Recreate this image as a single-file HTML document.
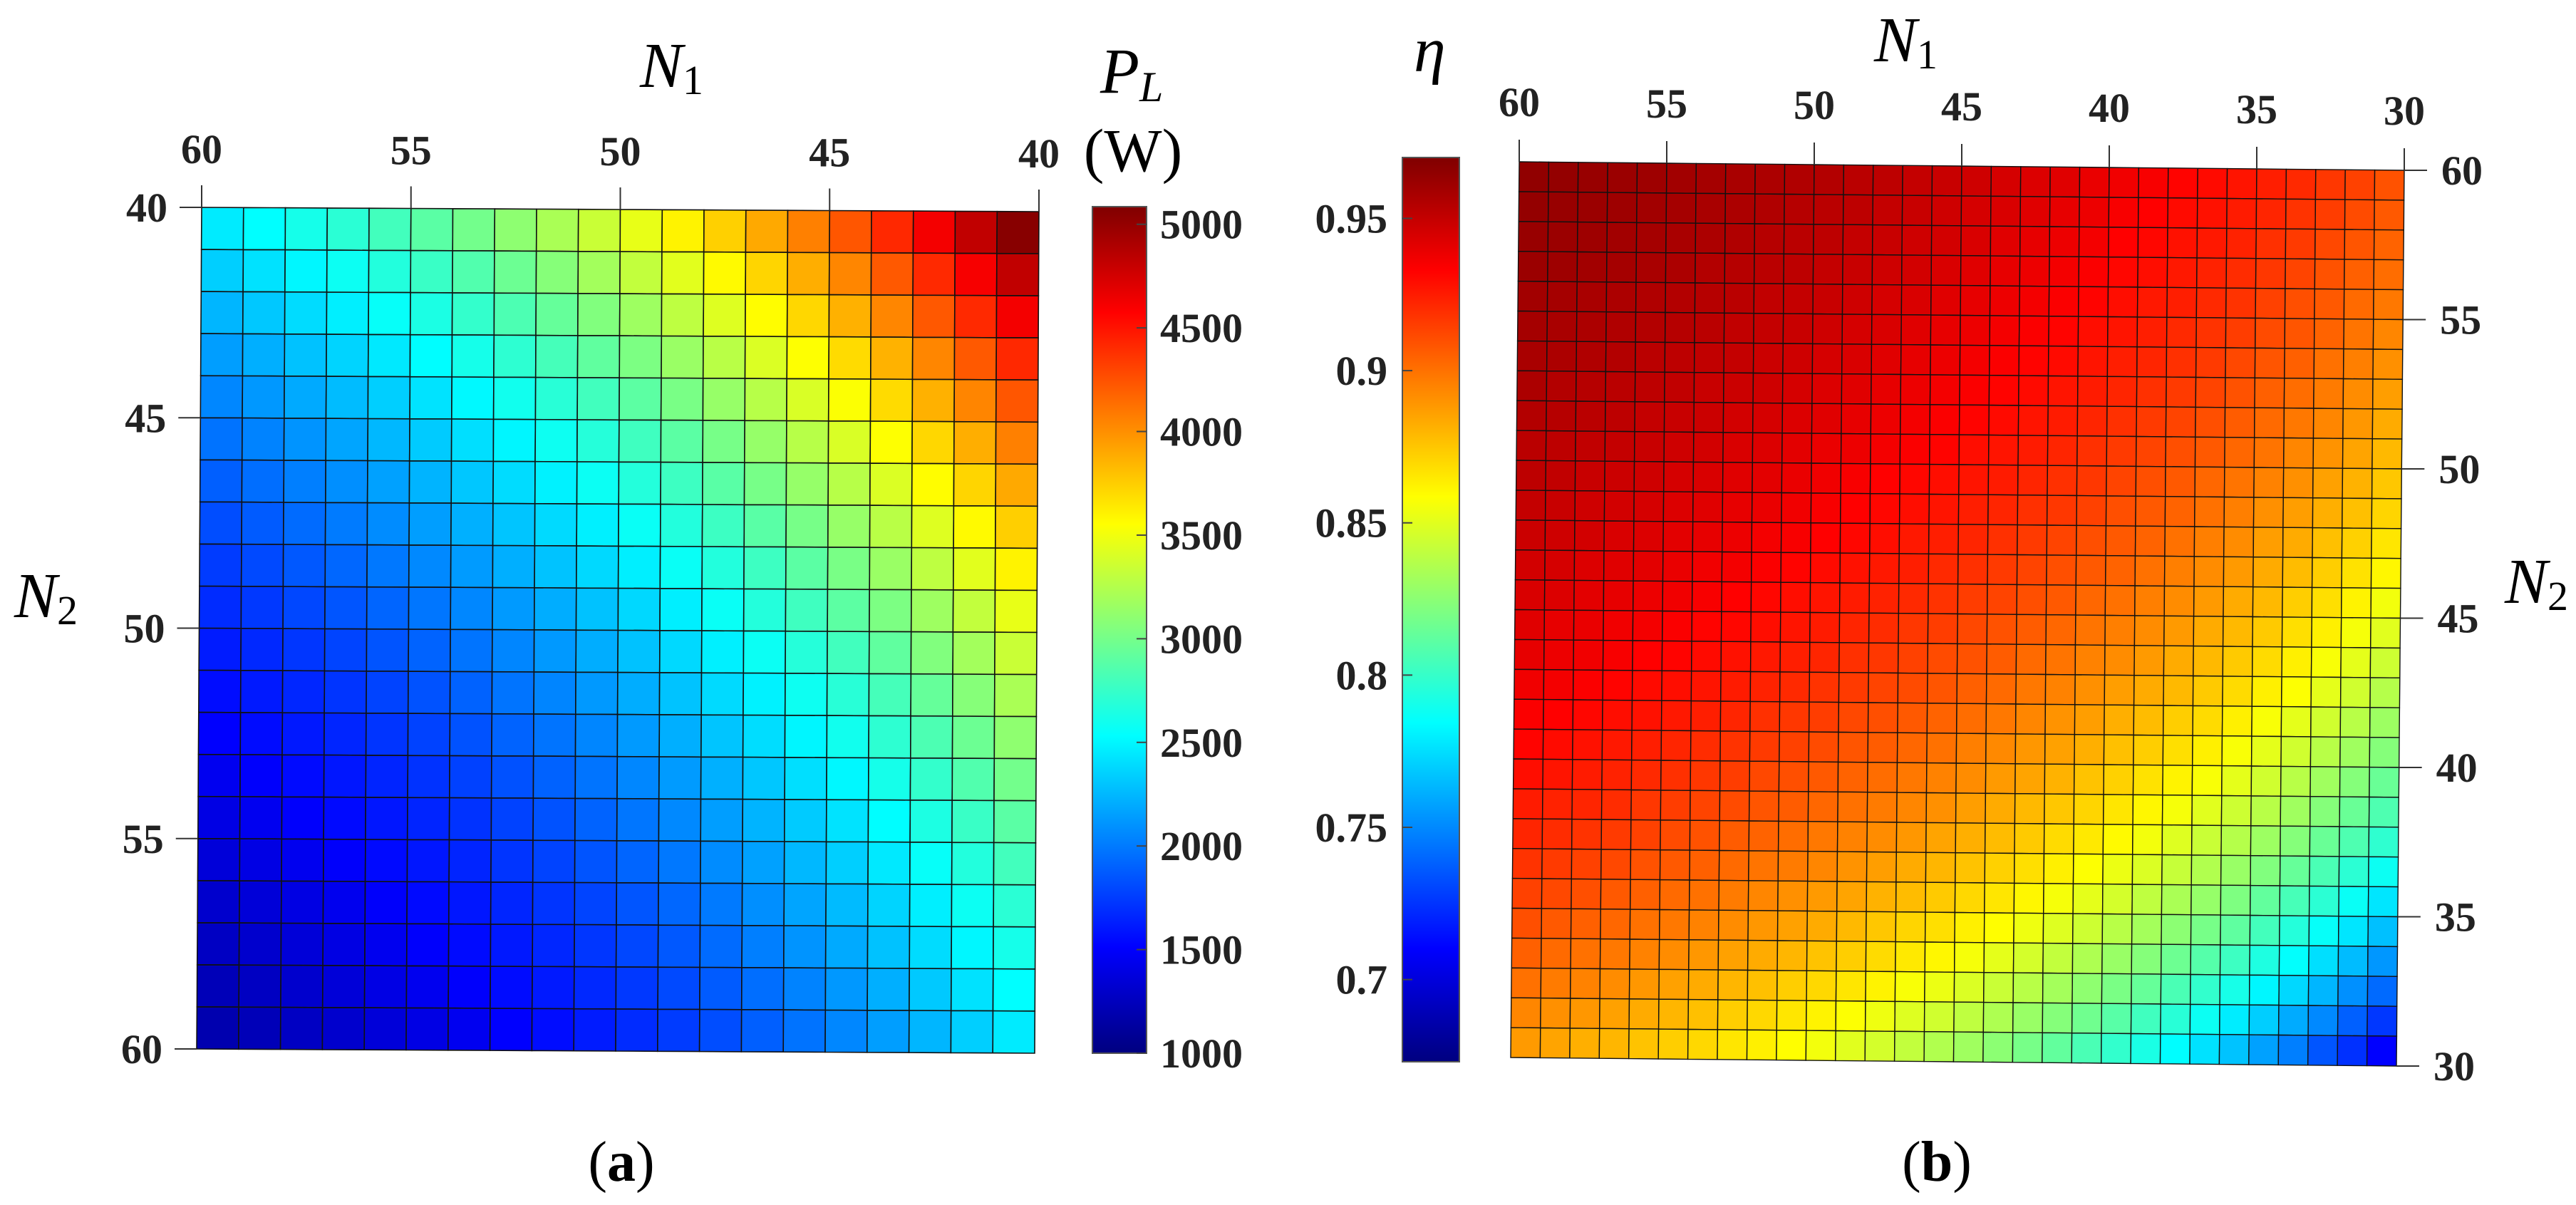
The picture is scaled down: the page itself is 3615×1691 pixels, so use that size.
<!DOCTYPE html>
<html><head><meta charset="utf-8"><style>
html,body{margin:0;padding:0;background:#fff;}
svg{display:block;}
text{font-family:"Liberation Serif","DejaVu Serif","Times New Roman",serif;}
.tk{font-family:"Liberation Serif","DejaVu Serif","Times New Roman",serif;font-weight:bold;font-size:58px;fill:#222;}
.lab{font-family:"Liberation Serif","DejaVu Serif","Times New Roman",serif;font-style:italic;font-size:90px;fill:#000;}
.sub{font-family:"Liberation Serif","DejaVu Serif","Times New Roman",serif;font-size:58px;fill:#000;}
</style></head><body>
<svg id="fig" width="3615" height="1691" viewBox="0 0 3615 1691" xmlns="http://www.w3.org/2000/svg" font-family="Liberation Serif, DejaVu Serif, serif">
<defs>
<linearGradient id="jetL" x1="0" y1="1" x2="0" y2="0"></linearGradient>
<linearGradient id="jetR" x1="0" y1="1" x2="0" y2="0"></linearGradient>
</defs>
<g id="plotA"></g>
<g id="plotB"></g>
<g id="axes"></g>

<text class="lab" x="898" y="122">N<tspan class="sub" dy="10" font-style="normal">1</tspan></text>
<text class="lab" x="20" y="866">N<tspan class="sub" dy="10" font-style="normal">2</tspan></text>
<text class="lab" x="1544" y="130">P<tspan font-size="60" dy="12">L</tspan></text>
<text x="1590" y="240" text-anchor="middle" font-size="86">(W)</text>
<text x="872" y="1657" text-anchor="middle" font-size="80">(<tspan font-weight="bold">a</tspan>)</text>

<text class="lab" x="2630" y="86">N<tspan class="sub" dy="10" font-style="normal">1</tspan></text>
<text class="lab" x="3515" y="846">N<tspan class="sub" dy="10" font-style="normal">2</tspan></text>
<text class="lab" x="1984" y="100" font-size="110">η</text>
<text x="2718" y="1657" text-anchor="middle" font-size="80">(<tspan font-weight="bold">b</tspan>)</text>
</svg>
<script>
// ---------- data: panel (a) P_L (W), rows N2=40..59, cols N1=60..41 ----------
const n1A = [60,59,58,57,56,55,54,53,52,51,50,49,48,47,46,45,44,43,42,41];
const n2A = [40,41,42,43,44,45,46,47,48,49,50,51,52,53,54,55,56,57,58,59];
const xTicksA = [60,55,50,45,40];
const yTicksA = [40,45,50,55,60];
const cbTicksA = [1000,1500,2000,2500,3000,3500,4000,4500,5000];
const pl = [
[2452,2531,2616,2701,2795,2891,2992,3102,3214,3336,3463,3600,3743,3897,4061,4230,4416,4617,4823,5051],
[2341,2417,2498,2579,2669,2760,2857,2963,3069,3186,3307,3438,3575,3721,3878,4039,4217,4409,4606,4824],
[2241,2313,2391,2469,2555,2642,2735,2836,2938,3049,3165,3291,3422,3562,3712,3866,4036,4220,4409,4617],
[2143,2213,2287,2361,2444,2527,2615,2712,2810,2916,3027,3148,3273,3407,3550,3698,3861,4037,4217,4416],
[2053,2120,2191,2262,2341,2421,2506,2598,2692,2794,2900,3015,3135,3264,3401,3543,3699,3867,4040,4231],
[1971,2035,2103,2171,2247,2324,2405,2494,2584,2682,2784,2895,3010,3133,3265,3401,3550,3712,3878,4061],
[1892,1953,2018,2084,2156,2230,2308,2393,2480,2574,2672,2778,2888,3007,3133,3263,3407,3562,3721,3897],
[1817,1876,1939,2002,2072,2142,2217,2299,2382,2472,2566,2668,2774,2888,3010,3135,3273,3422,3575,3744],
[1748,1804,1865,1925,1992,2060,2132,2211,2291,2378,2468,2566,2668,2778,2895,3015,3148,3291,3438,3601],
[1681,1735,1793,1851,1916,1982,2051,2127,2203,2287,2374,2468,2566,2672,2784,2900,3027,3165,3307,3463],
[1619,1671,1727,1784,1846,1909,1976,2049,2122,2203,2287,2378,2472,2574,2682,2793,2916,3049,3185,3336],
[1560,1610,1664,1718,1779,1839,1904,1974,2045,2123,2203,2291,2382,2480,2584,2691,2810,2938,3069,3214],
[1506,1555,1607,1659,1717,1776,1838,1906,1974,2049,2127,2212,2299,2394,2495,2598,2713,2836,2963,3103],
[1452,1499,1549,1600,1655,1712,1772,1837,1903,1976,2051,2132,2217,2308,2405,2505,2615,2735,2857,2992],
[1403,1449,1497,1546,1600,1654,1712,1776,1839,1909,1982,2061,2142,2230,2324,2421,2527,2643,2761,2891],
[1357,1401,1448,1495,1547,1600,1656,1717,1779,1846,1917,1993,2072,2157,2248,2341,2444,2556,2670,2796],
[1311,1353,1398,1444,1494,1545,1599,1659,1718,1783,1851,1925,2001,2083,2171,2261,2361,2468,2579,2700],
[1270,1311,1355,1399,1447,1497,1549,1606,1664,1728,1793,1864,1938,2018,2103,2190,2287,2391,2498,2616],
[1228,1268,1311,1353,1401,1448,1499,1554,1610,1672,1735,1804,1876,1953,2035,2120,2213,2314,2417,2531],
[1190,1228,1270,1311,1357,1403,1452,1506,1560,1619,1681,1747,1817,1891,1971,2053,2143,2241,2341,2452]
];
// ---------- data: panel (b) efficiency, rows N2=60..31, cols N1=60..31 ----------
const n1B = [60,59,58,57,56,55,54,53,52,51,50,49,48,47,46,45,44,43,42,41,40,39,38,37,36,35,34,33,32,31];
const n2B = [60,59,58,57,56,55,54,53,52,51,50,49,48,47,46,45,44,43,42,41,40,39,38,37,36,35,34,33,32,31];
const xTicksB = [60,55,50,45,40,35,30];
const yTicksB = [60,55,50,45,40,35,30];
const cbTicksB = [0.7,0.75,0.8,0.85,0.9,0.95];
const eta = [
[.965,.964,.963,.962,.961,.960,.959,.958,.957,.956,.955,.953,.952,.950,.949,.947,.945,.943,.942,.939,.937,.935,.932,.930,.927,.924,.921,.917,.914,.909],
[.964,.963,.962,.961,.960,.959,.958,.957,.956,.954,.953,.952,.950,.949,.947,.945,.944,.942,.940,.938,.935,.933,.930,.928,.925,.922,.918,.915,.911,.907],
[.963,.962,.961,.960,.959,.958,.957,.956,.954,.953,.952,.950,.949,.947,.946,.944,.942,.940,.938,.936,.933,.931,.928,.926,.923,.919,.916,.912,.908,.904],
[.962,.961,.960,.959,.958,.957,.955,.954,.953,.952,.950,.949,.947,.946,.944,.942,.940,.938,.936,.934,.931,.929,.926,.923,.920,.917,.913,.909,.905,.901],
[.960,.959,.958,.957,.956,.955,.954,.953,.951,.950,.949,.947,.945,.944,.942,.940,.938,.936,.934,.932,.929,.926,.924,.921,.918,.914,.910,.907,.902,.898],
[.959,.958,.957,.956,.955,.954,.953,.951,.950,.949,.947,.945,.944,.942,.940,.938,.936,.934,.932,.929,.927,.924,.921,.918,.915,.911,.908,.904,.899,.894],
[.958,.957,.956,.955,.953,.952,.951,.950,.948,.947,.945,.944,.942,.940,.938,.936,.934,.932,.930,.927,.924,.922,.919,.916,.912,.908,.905,.900,.896,.891],
[.957,.955,.954,.953,.952,.951,.949,.948,.947,.945,.943,.942,.940,.938,.936,.934,.932,.930,.927,.925,.922,.919,.916,.913,.909,.905,.901,.897,.892,.887],
[.955,.954,.953,.952,.950,.949,.948,.946,.945,.943,.942,.940,.938,.936,.934,.932,.930,.927,.925,.922,.919,.916,.913,.910,.906,.902,.898,.894,.889,.883],
[.953,.952,.951,.950,.949,.947,.946,.944,.943,.941,.939,.938,.936,.934,.932,.929,.927,.925,.922,.919,.916,.913,.910,.907,.903,.899,.894,.890,.885,.879],
[.952,.951,.949,.948,.947,.945,.944,.942,.941,.939,.937,.935,.933,.931,.929,.927,.925,.922,.919,.917,.913,.910,.907,.903,.899,.895,.891,.886,.881,.875],
[.950,.949,.947,.946,.945,.943,.942,.940,.939,.937,.935,.933,.931,.929,.927,.924,.922,.919,.917,.914,.910,.907,.904,.900,.896,.891,.887,.882,.877,.871],
[.948,.947,.946,.944,.943,.941,.940,.938,.936,.935,.933,.931,.929,.926,.924,.922,.919,.916,.913,.910,.907,.904,.900,.896,.892,.887,.883,.877,.872,.866],
[.946,.945,.943,.942,.941,.939,.937,.936,.934,.932,.930,.928,.926,.924,.921,.919,.916,.913,.910,.907,.904,.900,.896,.892,.888,.883,.878,.873,.867,.861],
[.944,.943,.941,.940,.938,.937,.935,.933,.931,.929,.927,.925,.923,.921,.918,.915,.913,.910,.907,.903,.900,.896,.892,.888,.883,.879,.873,.868,.862,.855],
[.942,.940,.939,.937,.936,.934,.932,.931,.929,.927,.925,.922,.920,.917,.915,.912,.909,.906,.903,.899,.896,.892,.888,.883,.879,.874,.868,.863,.856,.850],
[.940,.938,.937,.935,.933,.932,.930,.928,.926,.924,.922,.919,.917,.914,.911,.909,.906,.902,.899,.895,.892,.888,.883,.879,.874,.869,.863,.857,.851,.844],
[.937,.936,.934,.932,.930,.929,.927,.925,.923,.921,.918,.916,.913,.911,.908,.905,.902,.898,.895,.891,.887,.883,.879,.874,.869,.863,.858,.851,.845,.837],
[.934,.933,.931,.929,.928,.926,.924,.922,.919,.917,.915,.912,.910,.907,.904,.901,.898,.894,.890,.887,.882,.878,.873,.869,.863,.857,.851,.845,.838,.830],
[.932,.930,.928,.926,.924,.922,.920,.918,.916,.914,.911,.908,.906,.903,.900,.896,.893,.889,.886,.882,.877,.873,.868,.863,.857,.851,.845,.838,.831,.823],
[.929,.927,.925,.923,.921,.919,.917,.915,.912,.910,.907,.904,.901,.898,.895,.892,.888,.885,.881,.876,.872,.867,.862,.857,.851,.845,.838,.831,.823,.815],
[.925,.923,.922,.920,.917,.915,.913,.911,.908,.906,.903,.900,.897,.894,.891,.887,.883,.879,.875,.871,.866,.861,.856,.850,.844,.838,.831,.823,.815,.807],
[.922,.920,.918,.916,.914,.911,.909,.906,.904,.901,.898,.895,.892,.889,.885,.882,.878,.874,.869,.865,.860,.855,.849,.843,.837,.830,.823,.815,.807,.798],
[.918,.916,.914,.912,.909,.907,.905,.902,.899,.897,.894,.890,.887,.883,.880,.876,.872,.868,.863,.858,.853,.848,.842,.836,.829,.822,.814,.806,.797,.788],
[.914,.912,.910,.907,.905,.902,.900,.897,.894,.891,.888,.885,.881,.878,.874,.870,.866,.861,.856,.851,.846,.840,.834,.828,.821,.813,.805,.797,.787,.777],
[.910,.907,.905,.903,.900,.898,.895,.892,.889,.886,.883,.879,.875,.871,.868,.863,.859,.854,.849,.844,.838,.832,.825,.819,.812,.804,.795,.786,.777,.766],
[.905,.902,.900,.898,.895,.892,.889,.886,.883,.880,.876,.873,.869,.865,.861,.856,.851,.846,.841,.835,.829,.823,.816,.809,.802,.793,.785,.775,.765,.754],
[.900,.897,.895,.892,.889,.886,.883,.880,.877,.873,.870,.866,.862,.857,.853,.848,.843,.838,.832,.826,.820,.814,.806,.799,.791,.782,.773,.763,.752,.741],
[.894,.891,.889,.886,.883,.880,.877,.873,.870,.866,.862,.858,.854,.849,.845,.840,.835,.829,.823,.817,.810,.803,.796,.788,.779,.770,.760,.750,.738,.726],
[.888,.885,.882,.880,.876,.873,.870,.866,.863,.859,.855,.850,.846,.841,.836,.831,.825,.819,.813,.806,.799,.792,.784,.776,.767,.757,.747,.735,.724,.710]
];

const NS = 'http://www.w3.org/2000/svg';
function mk(tag, attrs, parent){const e=document.createElementNS(NS,tag);for(const k in attrs)e.setAttribute(k,attrs[k]);parent.appendChild(e);return e;}
function jet(t){t=Math.max(0,Math.min(1,t));const c=v=>Math.round(255*Math.max(0,Math.min(1,v)));
  return 'rgb('+c(1.5-Math.abs(4*t-3))+','+c(1.5-Math.abs(4*t-2))+','+c(1.5-Math.abs(4*t-1))+')';}
function bil(P,u,v){return [P.tl[0]*(1-u)*(1-v)+P.tr[0]*u*(1-v)+P.bl[0]*(1-u)*v+P.br[0]*u*v,
  P.tl[1]*(1-u)*(1-v)+P.tr[1]*u*(1-v)+P.bl[1]*(1-u)*v+P.br[1]*u*v];}

const GA={tl:[283,291],tr:[1458,297],bl:[276,1472],br:[1452,1478]};
const GB={tl:[2132,227],tr:[3374,239],bl:[2120,1484],br:[3363,1496]};
const uA=n=>(60-n)/20, vA=n=>(n-40)/20;
const uB=n=>(60-n)/30, vB=n=>(60-n)/30;
const climA=[1000,5085], climB=[0.673,0.970];
const FONT='"Liberation Serif","DejaVu Serif","Times New Roman",serif';

const gA=document.getElementById('plotA'), gB=document.getElementById('plotB'), ax=document.getElementById('axes');
function quad(G,u0,u1,v0,v1){return [bil(G,u0,v0),bil(G,u1,v0),bil(G,u1,v1),bil(G,u0,v1)].map(p=>p[0].toFixed(1)+','+p[1].toFixed(1)).join(' ');}

for(let r=0;r<n2A.length;r++)for(let c=0;c<n1A.length;c++){
  const val=pl[r][c];
  const p=mk('polygon',{points:quad(GA,uA(n1A[c]),uA(n1A[c]-1),vA(n2A[r]),vA(n2A[r]+1)),fill:jet((val-climA[0])/(climA[1]-climA[0])),stroke:'#111','stroke-width':'1.6'},gA);
  
  
}
for(let r=0;r<n2B.length;r++)for(let c=0;c<n1B.length;c++){
  const val=eta[r][c];
  const p=mk('polygon',{points:quad(GB,uB(n1B[c]),uB(n1B[c]-1),vB(n2B[r]),vB(n2B[r]-1)),fill:jet((val-climB[0])/(climB[1]-climB[0])),stroke:'#111','stroke-width':'1.4'},gB);
  
  
}

function tickText(x,y,anchor,txt){const t=mk('text',{x:x,y:y,'text-anchor':anchor,class:'tk','font-family':FONT,'font-weight':'bold','font-size':'58'},ax);t.textContent=txt;return t;}

xTicksA.forEach(n=>{const p=bil(GA,uA(n),0);
  const l=mk('line',{x1:p[0],y1:p[1],x2:p[0],y2:p[1]-31,stroke:'#333','stroke-width':'2'},ax);
  
  
  const t=tickText(p[0],p[1]-62,'middle',n);
  
  });
yTicksA.forEach(n=>{const p=bil(GA,0,vA(n));
  const l=mk('line',{x1:p[0],y1:p[1],x2:p[0]-31,y2:p[1],stroke:'#333','stroke-width':'2'},ax);
  
  
  const t=tickText(p[0]-48,p[1]+20,'end',n);
  
  });
xTicksB.forEach(n=>{const p=bil(GB,uB(n),0);
  const l=mk('line',{x1:p[0],y1:p[1],x2:p[0],y2:p[1]-31,stroke:'#333','stroke-width':'2'},ax);
  
  
  const t=tickText(p[0],p[1]-64,'middle',n);
  
  });
yTicksB.forEach(n=>{const p=bil(GB,1,vB(n));
  const l=mk('line',{x1:p[0],y1:p[1],x2:p[0]+32,y2:p[1],stroke:'#333','stroke-width':'2'},ax);
  
  
  const t=tickText(p[0]+52,p[1]+20,'start',n);
  
  });

function gradient(id){const g=document.getElementById(id);for(let i=0;i<=64;i++){mk('stop',{offset:(i/64).toFixed(4),'stop-color':jet(i/64)},g);}}
gradient('jetL');gradient('jetR');
const CA={x:1533,y:290,w:76,h:1188}, CB={x:1968,y:221,w:80,h:1269};
const ca=mk('rect',{x:CA.x,y:CA.y,width:CA.w,height:CA.h,fill:'url(#jetL)',stroke:'#555','stroke-width':'2'},ax);


const cb=mk('rect',{x:CB.x,y:CB.y,width:CB.w,height:CB.h,fill:'url(#jetR)',stroke:'#555','stroke-width':'2'},ax);


const cyA=v=>CA.y+CA.h*(1-(v-climA[0])/(climA[1]-climA[0]));
const cyB=v=>CB.y+CB.h*(1-(v-climB[0])/(climB[1]-climB[0]));
cbTicksA.forEach(v=>{const y=cyA(v);
  mk('line',{x1:CA.x+CA.w-14,y1:y,x2:CA.x+CA.w,y2:y,stroke:'#444','stroke-width':'2'},ax);
  const t=tickText(CA.x+95,y+20,'start',v);
  
  });
cbTicksB.forEach(v=>{const y=cyB(v);
  mk('line',{x1:CB.x,y1:y,x2:CB.x+14,y2:y,stroke:'#444','stroke-width':'2'},ax);
  const t=tickText(CB.x-21,y+20,'end',String(v));
  
  });
</script>
</body></html>
